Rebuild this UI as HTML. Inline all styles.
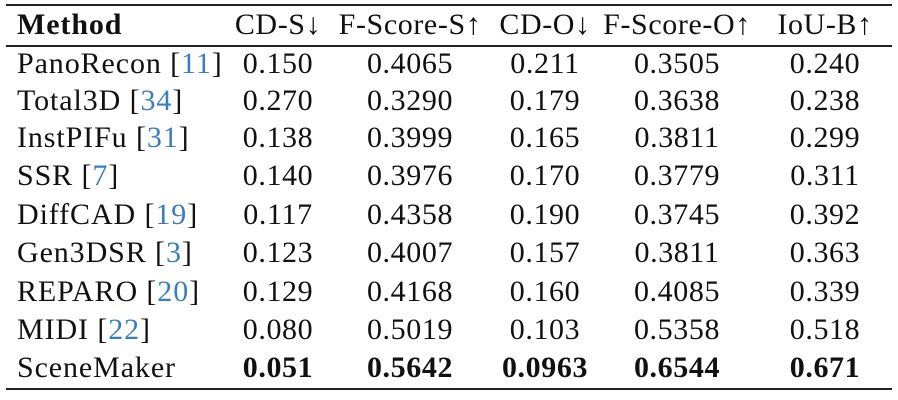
<!DOCTYPE html>
<html><head><meta charset="utf-8"><style>
body{margin:0;width:898px;height:400px;background:#fff;position:relative;overflow:hidden;font-family:"Liberation Serif",serif;font-size:30px;letter-spacing:0.6px;color:#111}
.l{position:absolute;left:6px;width:886px;background:#222}
.r{position:absolute;left:0;width:898px;height:38px;line-height:38px}
.r span{position:absolute;white-space:nowrap}
.m{left:17px;letter-spacing:0.9px}
.c{transform:translateX(-50%)}
.c1{left:278px}.c2{left:410px}.c3{left:545px}.c4{left:677px}.c5{left:825px}
a{color:#3a7ebf;text-decoration:none}
b{font-weight:bold}
</style></head><body>
<div class="l" style="top:4px;height:2px"></div>
<div class="l" style="top:45px;height:1.5px"></div>
<div class="l" style="top:388px;height:2px"></div>
<div class="r" style="top:6px"><span class="m"><b>Method</b></span><span class="c c1">CD-S↓</span><span class="c c2">F-Score-S↑</span><span class="c c3">CD-O↓</span><span class="c c4">F-Score-O↑</span><span class="c c5">IoU-B↑</span></div>
<div class="r" style="top:45px"><span class="m">PanoRecon [<a>11</a>]</span><span class="c c1">0.150</span><span class="c c2">0.4065</span><span class="c c3">0.211</span><span class="c c4">0.3505</span><span class="c c5">0.240</span></div>
<div class="r" style="top:82px"><span class="m">Total3D [<a>34</a>]</span><span class="c c1">0.270</span><span class="c c2">0.3290</span><span class="c c3">0.179</span><span class="c c4">0.3638</span><span class="c c5">0.238</span></div>
<div class="r" style="top:119px"><span class="m">InstPIFu [<a>31</a>]</span><span class="c c1">0.138</span><span class="c c2">0.3999</span><span class="c c3">0.165</span><span class="c c4">0.3811</span><span class="c c5">0.299</span></div>
<div class="r" style="top:157px"><span class="m">SSR [<a>7</a>]</span><span class="c c1">0.140</span><span class="c c2">0.3976</span><span class="c c3">0.170</span><span class="c c4">0.3779</span><span class="c c5">0.311</span></div>
<div class="r" style="top:196px"><span class="m">DiffCAD [<a>19</a>]</span><span class="c c1">0.117</span><span class="c c2">0.4358</span><span class="c c3">0.190</span><span class="c c4">0.3745</span><span class="c c5">0.392</span></div>
<div class="r" style="top:234px"><span class="m">Gen3DSR [<a>3</a>]</span><span class="c c1">0.123</span><span class="c c2">0.4007</span><span class="c c3">0.157</span><span class="c c4">0.3811</span><span class="c c5">0.363</span></div>
<div class="r" style="top:273px"><span class="m">REPARO [<a>20</a>]</span><span class="c c1">0.129</span><span class="c c2">0.4168</span><span class="c c3">0.160</span><span class="c c4">0.4085</span><span class="c c5">0.339</span></div>
<div class="r" style="top:311px"><span class="m">MIDI [<a>22</a>]</span><span class="c c1">0.080</span><span class="c c2">0.5019</span><span class="c c3">0.103</span><span class="c c4">0.5358</span><span class="c c5">0.518</span></div>
<div class="r" style="top:349px"><span class="m">SceneMaker</span><span class="c c1"><b>0.051</b></span><span class="c c2"><b>0.5642</b></span><span class="c c3"><b>0.0963</b></span><span class="c c4"><b>0.6544</b></span><span class="c c5"><b>0.671</b></span></div>
</body></html>
